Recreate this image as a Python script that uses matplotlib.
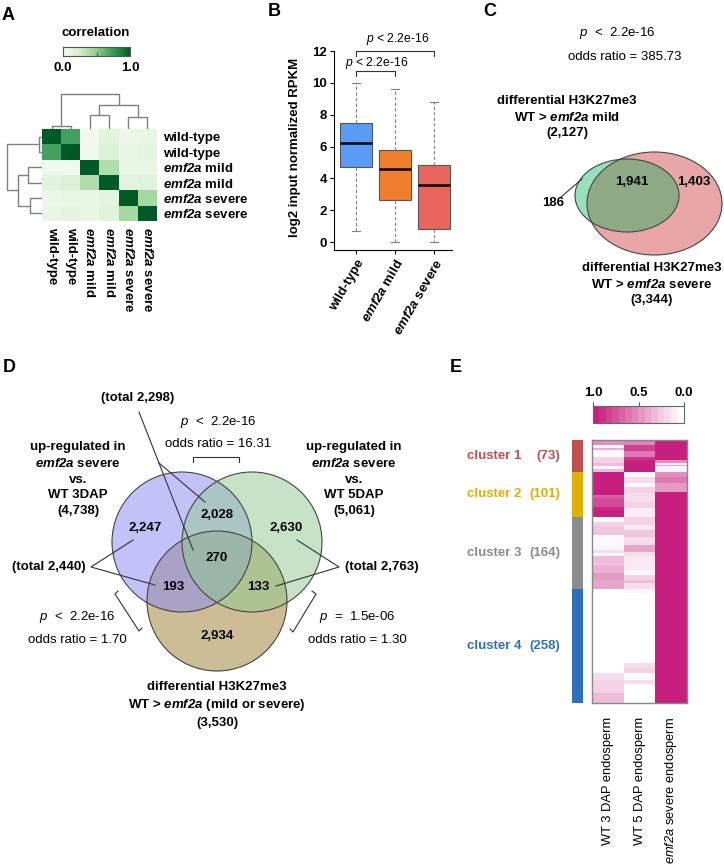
import numpy as np
import matplotlib
matplotlib.use('Agg')
import matplotlib.pyplot as plt
from matplotlib.colors import LinearSegmentedColormap
from matplotlib.patches import Circle, Ellipse

plt.rcParams['font.family'] = 'Liberation Sans'
plt.rcParams['mathtext.fontset'] = 'custom'
plt.rcParams['mathtext.it'] = 'Liberation Sans:italic:bold'   # bold italic gene names
plt.rcParams['mathtext.rm'] = 'Liberation Sans:italic:bold'   # digits inside \mathit fall back to rm
plt.rcParams['mathtext.sf'] = 'Liberation Sans:italic'        # regular italic
plt.rcParams['mathtext.bf'] = 'Liberation Sans:bold'

W, H = 724, 866
FS = 9.5

# ---------------- A: sample correlation
corr_labels = ['wild-type', 'wild-type', r'$\mathit{emf2a}$ mild', r'$\mathit{emf2a}$ mild',
               r'$\mathit{emf2a}$ severe', r'$\mathit{emf2a}$ severe']
corr = np.array([
    [1.00, 0.72, 0.04, 0.14, 0.08, 0.10],
    [0.72, 1.00, 0.05, 0.18, 0.10, 0.12],
    [0.04, 0.05, 1.00, 0.38, 0.10, 0.09],
    [0.14, 0.18, 0.38, 1.00, 0.12, 0.15],
    [0.08, 0.10, 0.10, 0.12, 1.00, 0.42],
    [0.10, 0.12, 0.09, 0.15, 0.42, 1.00]])
# (node a, node b, height); leaves 0-5, merged nodes numbered 6..
linkage = [(0, 1, 0.09), (2, 3, 0.39), (4, 5, 0.34), (7, 8, 0.69), (6, 9, 1.0)]

# ---------------- B: boxplot stats
box_groups = ['wild-type', r'$\mathit{emf2a}$ mild', r'$\mathit{emf2a}$ severe']
box_whislo = [0.7, 0.0, 0.0]
box_q1 = [4.73, 2.64, 0.80]
box_med = [6.24, 4.57, 3.56]
box_q3 = [7.46, 5.80, 4.86]
box_whishi = [9.97, 9.59, 8.78]
box_colors = ['#5a9bf6', '#ef7e2f', '#e9665f']

# ---------------- C / D: venn counts
c_counts = ['186', '1,941', '1,403']
d_counts = ['2,247', '2,028', '2,630', '270', '193', '133', '2,934']

# ---------------- E: clustered heatmap, runs of (value, n rows) per column
cluster_names = ['cluster 1', 'cluster 2', 'cluster 3', 'cluster 4']
cluster_sizes = [73, 101, 164, 258]
cluster_colors = ['#c0504d', '#e0b000', '#8c8c8c', '#2f6fc0']
e_columns = ['WT 3 DAP endosperm', 'WT 5 DAP endosperm', r'$\mathsf{emf2a}$ severe endosperm']
runs_3dap = [(0.5, 11), (0.05, 6), (0.35, 6), (0.02, 15), (0.2, 15), (0.3, 6), (0.03, 7), (0.3, 7),
             (1.0, 52), (0.7, 7), (0.8, 19), (0.95, 8), (1.0, 15),
             (0.03, 11), (0.2, 11), (0.25, 19), (0.03, 34), (0.15, 8), (0.03, 7), (0.3, 16),
             (0.2, 3), (0.35, 19), (0.45, 15), (0.4, 21),
             (0.0, 191), (0.15, 15), (0.2, 30), (0.3, 22)]
runs_5dap = [(0.55, 11), (0.85, 15), (0.6, 12), (0.9, 7), (1.0, 28),
             (0.03, 10), (0.15, 15), (0.03, 8), (0.2, 15), (0.15, 19), (0.2, 15), (0.08, 19),
             (0.2, 19), (0.1, 11), (0.25, 15), (0.15, 19), (0.4, 15), (0.15, 11), (0.1, 31),
             (0.03, 11), (0.2, 11), (0.3, 8), (0.15, 13),
             (0.05, 9), (0.0, 159), (0.15, 11), (0.2, 12), (0.02, 15), (0.15, 9), (0.0, 43)]
runs_severe = [(1.0, 45), (0.5, 8), (0.05, 4), (0.4, 3), (0.05, 13),
               (0.5, 10), (0.6, 15), (0.45, 19), (1.0, 57),
               (1.0, 164), (1.0, 258)]

green_cmap = LinearSegmentedColormap.from_list(
    'grn', ['#f7fcf5', '#d2edcc', '#8fd08f', '#3a9a5a', '#005a26'])
pink_cmap = LinearSegmentedColormap.from_list('pnk', ['#ffffff', '#c71f7f'])

fig = plt.figure(figsize=(W / 100, H / 100), dpi=100)


def add_px(x0, y0, x1, y1):
    return fig.add_axes([x0 / W, 1 - y1 / H, (x1 - x0) / W, (y1 - y0) / H])


def draw_dendro(ax, orient):
    pos = {i: float(i) for i in range(6)}
    hgt = {i: 0.0 for i in range(6)}
    for k, (a, b, h) in enumerate(linkage):
        xs = [pos[a], pos[a], pos[b], pos[b]]
        ys = [hgt[a], h, h, hgt[b]]
        if orient == 'top':
            ax.plot(xs, ys, color='#808080', lw=1)
        else:
            ax.plot(ys, xs, color='#808080', lw=1)
        pos[6 + k] = (pos[a] + pos[b]) / 2
        hgt[6 + k] = h


# ======== A
ax_a = add_px(42, 129, 157, 221)
ax_a.imshow(corr, cmap=green_cmap, vmin=0, vmax=1, aspect='auto', interpolation='nearest')
ax_a.set_xticks(range(6))
ax_a.set_xticklabels(corr_labels, rotation=270, ha='center', va='top', fontweight='bold', fontsize=FS)
ax_a.yaxis.tick_right()
ax_a.set_yticks(range(6))
ax_a.set_yticklabels(corr_labels, fontweight='bold', fontsize=FS)
ax_a.tick_params(length=0, pad=4)
for s in ax_a.spines.values():
    s.set_visible(False)

ax_top = add_px(42, 93, 157, 129)
draw_dendro(ax_top, 'top')
ax_top.set_xlim(-0.5, 5.5)
ax_top.set_ylim(0, 1.02)
ax_top.axis('off')

ax_left = add_px(6, 129, 42, 221)
draw_dendro(ax_left, 'left')
ax_left.set_ylim(5.5, -0.5)
ax_left.set_xlim(1.02, 0)
ax_left.axis('off')

cax_a = add_px(63, 47, 130, 56)
cax_a.imshow([np.linspace(0, 1, 256)], cmap=green_cmap, aspect='auto', extent=[0, 1, 0, 1])
cax_a.set_xlim(0, 1)
cax_a.set_yticks([])
cax_a.set_xticks([0, 0.5, 1])
cax_a.set_xticklabels(['0.0', '', '1.0'], fontweight='bold', fontsize=FS)
cax_a.tick_params(axis='x', length=3, width=0.8, color='#555', pad=4, direction='in')
for s in cax_a.spines.values():
    s.set_color('#555')
    s.set_linewidth(0.8)

# ======== B
ax_b = add_px(334, 51, 452, 250)
stats = [dict(whislo=box_whislo[i], q1=box_q1[i], med=box_med[i], q3=box_q3[i],
              whishi=box_whishi[i], label=box_groups[i]) for i in range(3)]
bp = ax_b.bxp(stats, positions=[1, 2, 3], widths=0.8, patch_artist=True, showfliers=False,
              capwidths=0.2,
              boxprops=dict(edgecolor='#555555', linewidth=0.8),
              medianprops=dict(color='black', linewidth=1.8),
              whiskerprops=dict(color='#808080', linestyle=(0, (3, 2)), linewidth=0.8),
              capprops=dict(color='#808080', linewidth=0.8))
for patch, col in zip(bp['boxes'], box_colors):
    patch.set_facecolor(col)
ax_b.set_xlim(0.44, 3.46)
ax_b.set_ylim(-0.5, 12)
ax_b.set_yticks(range(0, 13, 2))
ax_b.set_yticklabels([str(v) for v in range(0, 13, 2)], fontweight='bold', fontsize=FS)
ax_b.set_xticklabels(box_groups, rotation=60, ha='right', rotation_mode='anchor',
                     fontweight='bold', fontsize=FS)
ax_b.tick_params(length=3, width=0.8, pad=2)
ax_b.spines['top'].set_visible(False)
ax_b.spines['right'].set_visible(False)
for s in ('left', 'bottom'):
    ax_b.spines[s].set_linewidth(0.8)
# significance brackets
ax_b.plot([1, 1, 2, 2], [10.4, 10.72, 10.72, 10.4], color='#333', lw=0.8, clip_on=False)
ax_b.plot([1, 1, 3, 3], [11.7, 12.02, 12.02, 11.7], color='#333', lw=0.8, clip_on=False)
ax_b.text(1.54, 11.25, r'$\mathsf{p}$ < 2.2e-16', ha='center', va='center', fontsize=8.7)
ax_b.text(2.08, 12.75, r'$\mathsf{p}$ < 2.2e-16', ha='center', va='center', fontsize=8.7,
          clip_on=False)

# ======== E
ax_e = add_px(592, 440, 687, 703)
mat = np.column_stack([np.concatenate([np.full(n, v) for v, n in runs])
                       for runs in (runs_3dap, runs_5dap, runs_severe)])
ax_e.imshow(mat, cmap=pink_cmap, vmin=0, vmax=1, aspect='auto', interpolation='nearest')
ax_e.set_yticks([])
ax_e.set_xticks(range(3))
ax_e.set_xticklabels(e_columns, rotation=90, ha='center', va='top', fontsize=9.3)
ax_e.tick_params(length=0, pad=10)
for s in ax_e.spines.values():
    s.set_color('#888888')
    s.set_linewidth(1)

ax_side = add_px(572, 440, 583, 703)
starts = np.concatenate([[0], np.cumsum(cluster_sizes)[:-1]])
ax_side.bar(0, cluster_sizes, bottom=starts, width=1, color=cluster_colors)
ax_side.set_xlim(-0.5, 0.5)
ax_side.set_ylim(sum(cluster_sizes), 0)
ax_side.axis('off')

cax_e = add_px(593, 406, 684, 423)
cax_e.imshow([np.linspace(1, 0, 14)], cmap=pink_cmap, vmin=0, vmax=1, aspect='auto',
             extent=[1, 0, 0, 1])
cax_e.set_xlim(1, 0)
cax_e.set_yticks([])
cax_e.set_xticks([1, 0.5, 0])
cax_e.set_xticklabels(['1.0', '0.5', '0.0'], fontweight='bold', fontsize=FS)
cax_e.xaxis.set_ticks_position('top')
cax_e.tick_params(axis='x', length=3, width=0.8, color='#555', pad=2)
for s in cax_e.spines.values():
    s.set_color('#666')
    s.set_linewidth(0.8)

# ======== overlay (pixel coordinates) for venns and free text
ov = fig.add_axes([0, 0, 1, 1])
ov.set_xlim(0, W)
ov.set_ylim(H, 0)
ov.axis('off')


def txt(x, y, s, size=FS, weight='bold', **kw):
    ov.text(x, y, s, fontsize=size, fontweight=weight, ha=kw.pop('ha', 'center'),
            va=kw.pop('va', 'center'), linespacing=kw.pop('linespacing', 1.38), **kw)


def line(xs, ys):
    ov.plot(xs, ys, color='#333333', lw=0.8)


for letter, x, y in [('A', 8, 15), ('B', 274, 11), ('C', 490, 12), ('D', 9, 368), ('E', 456, 368)]:
    txt(x, y, letter, size=13)

txt(96, 33, 'correlation')
txt(295, 147, 'log2 input normalized RPKM', rotation=90)

# ---- C venn
red_e = Ellipse((654.5, 203.5), 135, 103, fc='#e8a6a6', ec='none')
ov.add_patch(red_e)
ov.add_patch(Ellipse((627, 195.5), 104, 73, fc='#98e0bc', ec='none'))
ov_part = Ellipse((627, 195.5), 104, 73, fc='#8eaa84', ec='none')
ov.add_patch(ov_part)
ov_part.set_clip_path(red_e)
ov.add_patch(Ellipse((654.5, 203.5), 135, 103, fill=False, ec='#444', lw=0.8))
ov.add_patch(Ellipse((627, 195.5), 104, 73, fill=False, ec='#444', lw=0.8))
txt(617, 33, r'$\mathsf{p}$  <  2.2e-16', weight='normal')
txt(625, 57, 'odds ratio = 385.73', weight='normal')
txt(567, 117, 'differential H3K27me3\nWT > $\\mathit{emf2a}$ mild\n(2,127)')
txt(652, 284, 'differential H3K27me3\nWT > $\\mathit{emf2a}$ severe\n(3,344)')
txt(553, 203, c_counts[0])
line([561, 582], [197, 179])
txt(632, 182, c_counts[1])
txt(694, 182, c_counts[2])

# ---- D venn
for (cx, cy), col in [((217, 601), '#9b7d31'), ((182, 542), '#8787f5'), ((252, 542), '#91c991')]:
    ov.add_patch(Circle((cx, cy), 70, fc=col, alpha=0.5, ec='none'))
for cx, cy in [(217, 601), (182, 542), (252, 542)]:
    ov.add_patch(Circle((cx, cy), 70, fill=False, ec='#444', lw=0.8))

d_pos = [(145, 528), (217, 515), (286, 528), (217, 558), (173, 587), (258, 587), (217, 636)]
for (x, y), s in zip(d_pos, d_counts):
    txt(x, y, s)

txt(78, 479, 'up-regulated in\n$\\mathit{emf2a}$ severe\nvs.\nWT 3DAP\n(4,738)')
txt(354, 479, 'up-regulated in\n$\\mathit{emf2a}$ severe\nvs.\nWT 5DAP\n(5,061)')
txt(217, 705, 'differential H3K27me3\nWT > $\\mathit{emf2a}$ (mild or severe)\n(3,530)')

txt(218, 422, r'$\mathsf{p}$  <  2.2e-16', weight='normal')
txt(218, 444, 'odds ratio = 16.31', weight='normal')
line([193, 193, 239, 239], [462, 457, 457, 462])

txt(77, 617, r'$\mathsf{p}$  <  2.2e-16', weight='normal')
txt(77, 640, 'odds ratio = 1.70', weight='normal')
txt(357, 617, r'$\mathsf{p}$  =  1.5e-06', weight='normal')
txt(357, 640, 'odds ratio = 1.30', weight='normal')
# side brackets
line([118, 115, 139, 142], [591, 594, 631, 628])
line([312, 316, 293, 290], [591, 594, 632, 629])

txt(138, 398, '(total 2,298)')
line([139, 193], [412, 550])
line([159, 205], [463, 502])
txt(49, 567, '(total 2,440)')
line([133, 91, 155], [540, 567, 585])
txt(382, 567, '(total 2,763)')
line([297, 339, 276], [540, 567, 586])

# ---- E cluster labels
e_label_y = [456, 494, 553, 646]
for name, n, col, y in zip(cluster_names, cluster_sizes, cluster_colors, e_label_y):
    txt(467, y, name, color=col, ha='left')
    txt(560, y, '(%d)' % n, color=col, ha='right')

fig.savefig('out.png', dpi=100)
